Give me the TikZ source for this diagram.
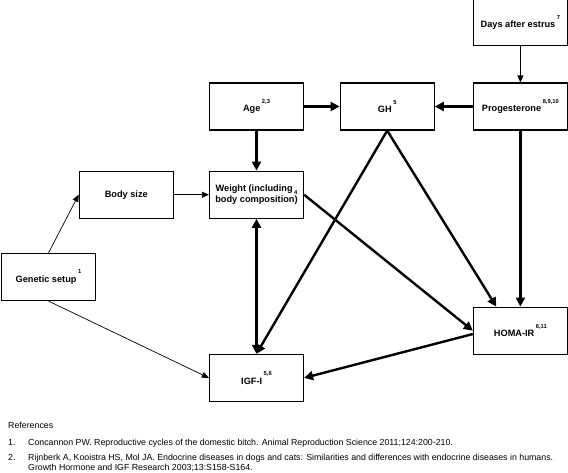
\documentclass[tikz,border=0pt]{standalone}
\usepackage{fontspec}
\setmainfont{Liberation Sans}
\usepackage{tikz}
\usetikzlibrary{arrows.meta}
\usetikzlibrary{positioning,calc}
\newcommand{\citesup}[1]{\,\raisebox{0.9em}{\fontsize{5.8}{6}\selectfont #1}}
\newcommand{\citesub}[1]{\,\raisebox{-0.3em}{\fontsize{5.8}{6}\selectfont #1}}
\tikzstyle{factor} = [draw, line width=1.2pt, minimum width=94pt, minimum height=47pt, inner sep=0pt, align=center, font=\fontsize{9.2}{11}\selectfont\bfseries]
\tikzstyle{arrow_strong} = [-{Triangle[length=9pt,width=9pt]}, line width=2.4pt]
\tikzstyle{arrow_weak} = [-{Triangle[length=7pt,width=6pt]}, line width=0.7pt]
\tikzstyle{reftext} = [anchor=base west, inner sep=0pt, font=\fontsize{8.8}{10}\selectfont]

\begin{document}
\begin{tikzpicture}[x=1pt, y=-1pt, node distance=35pt]
      \useasboundingbox (0,0) rectangle (568,472);

      \node[factor] (age) at (256.5,106.5) {Age\citesup{2,3}};
      \node[factor] (gh) [right=35.5pt of age] {GH\citesup{5}};
      \node[factor] (prog) [right=38pt of gh] {Progesterone\citesup{8,9,10}};
      \node[factor] (days) [above=36pt of prog] {Days after estrus\citesup{7}};
      \node[factor] (weight) [below=40pt of age] {Weight (including\citesub{4}\\body composition)};
      \node[factor] (body) [left=35pt of weight] {Body size};
      \node[factor] (genetic) at (48.5,277) {Genetic setup\citesup{1}};
      \node[factor] (igf) [below=135pt of weight] {IGF-I\citesup{5,6}};
      \node[factor] (homa) [below=176pt of prog] {HOMA-IR\citesup{6,11}};

      % Weak arrows
      \draw[arrow_weak] (days) -- (prog);
      \draw[arrow_weak] (body) -- (weight);
      \draw[arrow_weak] (genetic.north) -- (body.west);
      \draw[arrow_weak] (genetic.south) -- (igf.west);

      % Strong arrows
      \draw[arrow_strong] (age) -- (gh);
      \draw[arrow_strong] (prog) -- (gh);
      \draw[arrow_strong] (age) -- (weight);
      \draw[arrow_strong, {Triangle[length=9pt,width=9pt]}-{Triangle[length=9pt,width=9pt]}] (weight) -- (igf);
      \draw[arrow_strong] (gh.south) -- (igf.north);
      \draw[arrow_strong] (gh.south) -- (homa.135);
      \draw[arrow_strong] (prog) -- (homa);
      \draw[arrow_strong] (weight.east) -- (homa.west);
      \draw[arrow_strong] (homa.184) -- (igf.east);

      % References
      \node[reftext] (refhead) at (8,428) {References};
      \node[reftext] (refnum1) at (8,445) {1.};
      \node[reftext] (reftext1) at (28,445) {Concannon PW. Reproductive cycles of the domestic bitch. Animal Reproduction Science 2011;124:200-210.};
      \node[reftext] (refnum2) at (8,460) {2.};
      \node[reftext] (reftext2) at (28,460) {Rijnberk A, Kooistra HS, Mol JA. Endocrine diseases in dogs and cats: Similarities and differences with endocrine diseases in humans.};
      \node[reftext] (reftext2b) at (28,470) {Growth Hormone and IGF Research 2003;13:S158-S164.};

    \end{tikzpicture}
\end{document}
